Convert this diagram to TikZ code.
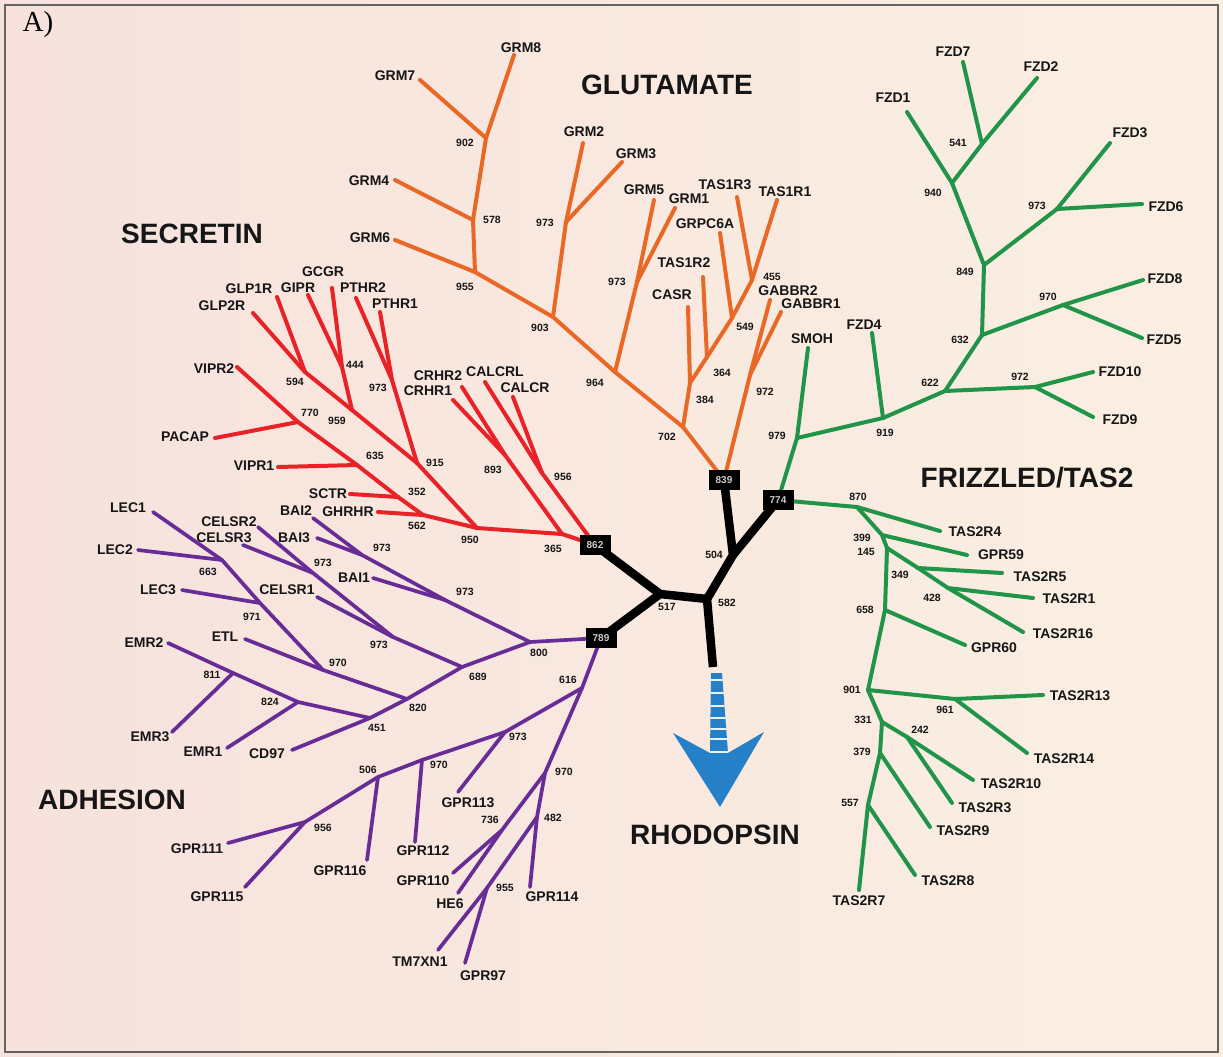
\documentclass[tikz,border=0pt]{standalone}
\usepackage{fontspec}
\setmainfont{Liberation Sans}
\newfontfamily\serifA{Liberation Serif}
\definecolor{bgl}{RGB}{247,226,221}
\definecolor{bgr}{RGB}{250,239,226}
\definecolor{framec}{RGB}{100,100,100}
\definecolor{ink}{RGB}{22,22,22}
\definecolor{cglu}{RGB}{234,104,38}
\definecolor{csec}{RGB}{232,34,38}
\definecolor{cfzd}{RGB}{32,148,72}
\definecolor{cadh}{RGB}{104,44,150}
\definecolor{cblue}{RGB}{38,128,200}
\begin{document}
\begin{tikzpicture}[x=1pt,y=-1pt,
  leaf/.style={font=\fontsize{14}{14}\selectfont\bfseries,text=ink,inner sep=0pt},
  num/.style={font=\fontsize{10.5}{10.5}\selectfont\bfseries,text=ink,inner sep=0pt},
  ttl/.style={font=\fontsize{28}{28}\selectfont\bfseries,text=ink,inner sep=0pt},
  boxn/.style={fill=black,text=white!80!black,minimum width=31pt,minimum height=20pt,inner sep=0pt,font=\fontsize{10}{10}\selectfont\bfseries},
  br/.style={line width=4pt,line cap=round,line join=round},
  glu/.style={br,draw=cglu}, sec/.style={br,draw=csec},
  fzd/.style={br,draw=cfzd}, adh/.style={br,draw=cadh,line width=3.7pt},
  core/.style={line width=8.5pt,line cap=round,line join=round,draw=black}]

\useasboundingbox (0,0) rectangle (1223,1057);
\shade[left color=bgl,right color=bgr] (0,0) rectangle (1223,1057);
\draw[framec,line width=2pt] (5,5) rectangle (1218,1052);

% ---------- core ----------
\coordinate (k862) at (595,545);
\coordinate (k839) at (724,480);
\coordinate (k774) at (778,500);
\coordinate (k789) at (601,638);
\coordinate (c517) at (660,594);
\coordinate (c582) at (707,599);
\coordinate (c504) at (733,555);
\coordinate (crho) at (713,667);

% ---------- glutamate ----------
\coordinate (g702) at (683,427);
\coordinate (g964) at (615,372);
\coordinate (g903) at (553,317);
\coordinate (g955) at (475,272);
\coordinate (lGRM6) at (395,240);
\coordinate (g578) at (473,220);
\coordinate (lGRM4) at (395,180);
\coordinate (g902) at (486,138);
\coordinate (lGRM7) at (420,80);
\coordinate (lGRM8) at (514,55);
\coordinate (g973a) at (566,222);
\coordinate (lGRM2) at (583,143);
\coordinate (lGRM3) at (622,162);
\coordinate (g973b) at (637,282);
\coordinate (lGRM5) at (654,200);
\coordinate (lGRM1) at (675,208);
\coordinate (g384) at (690,383);
\coordinate (lCASR) at (688,307);
\coordinate (g364) at (707,357);
\coordinate (lTAS1R2) at (703,277);
\coordinate (g549) at (732,318);
\coordinate (lGRPC6A) at (720,233);
\coordinate (g455) at (752,280);
\coordinate (lTAS1R3) at (737,197);
\coordinate (lTAS1R1) at (777,200);
\coordinate (g972) at (750,375);
\coordinate (lGABBR2) at (770,300);
\coordinate (lGABBR1) at (781,312);

% ---------- secretin ----------
\coordinate (s950) at (477,528);
\coordinate (s365) at (562,534);
\coordinate (s893) at (505,455);
\coordinate (lCRHR1) at (453,400);
\coordinate (lCRHR2) at (462,387);
\coordinate (s956) at (542,473);
\coordinate (lCALCRL) at (485,382);
\coordinate (lCALCR) at (513,397);
\coordinate (s562) at (423,515);
\coordinate (lGHRHR) at (378,512);
\coordinate (s352) at (398,497);
\coordinate (lSCTR) at (350,494);
\coordinate (s635) at (357,465);
\coordinate (lVIPR1) at (278,467);
\coordinate (s770) at (298,422);
\coordinate (lPACAP) at (215,438);
\coordinate (lVIPR2) at (237,367);
\coordinate (s915) at (417,463);
\coordinate (s959) at (352,410);
\coordinate (s594) at (305,372);
\coordinate (lGLP2R) at (253,313);
\coordinate (lGLP1R) at (277,297);
\coordinate (s444) at (342,367);
\coordinate (lGIPR) at (308,295);
\coordinate (lGCGR) at (332,288);
\coordinate (s973) at (392,380);
\coordinate (lPTHR2) at (356,298);
\coordinate (lPTHR1) at (380,312);

% ---------- frizzled ----------
\coordinate (f979) at (797,438);
\coordinate (lSMOH) at (808,348);
\coordinate (f919) at (883,418);
\coordinate (lFZD4) at (872,333);
\coordinate (f622) at (945,391);
\coordinate (f972) at (1035,387);
\coordinate (lFZD10) at (1093,372);
\coordinate (lFZD9) at (1093,417);
\coordinate (f632) at (982,335);
\coordinate (f970) at (1063,305);
\coordinate (lFZD8) at (1143,280);
\coordinate (lFZD5) at (1142,338);
\coordinate (f849) at (984,265);
\coordinate (f973) at (1057,209);
\coordinate (lFZD3) at (1110,143);
\coordinate (lFZD6) at (1142,204);
\coordinate (f940) at (952,183);
\coordinate (lFZD1) at (907,112);
\coordinate (f541) at (982,144);
\coordinate (lFZD7) at (963,62);
\coordinate (lFZD2) at (1037,78);

% ---------- TAS2 ----------
\coordinate (t870) at (857,507);
\coordinate (lTAS2R4) at (940,531);
\coordinate (t399) at (882,535);
\coordinate (lGPR59) at (967,555);
\coordinate (t145) at (887,548);
\coordinate (t349) at (918,568);
\coordinate (lTAS2R5) at (1002,573);
\coordinate (t428) at (948,588);
\coordinate (lTAS2R1) at (1033,598);
\coordinate (lTAS2R16) at (1023,632);
\coordinate (t658) at (885,610);
\coordinate (lGPR60) at (965,645);
\coordinate (t901) at (868,690);
\coordinate (t961) at (955,699);
\coordinate (lTAS2R13) at (1043,695);
\coordinate (lTAS2R14) at (1027,753);
\coordinate (t331) at (882,722);
\coordinate (t242) at (907,737);
\coordinate (lTAS2R10) at (973,780);
\coordinate (lTAS2R3) at (952,803);
\coordinate (t379) at (880,753);
\coordinate (lTAS2R9) at (930,827);
\coordinate (t557) at (868,805);
\coordinate (lTAS2R8) at (915,875);
\coordinate (lTAS2R7) at (859,890);

% ---------- adhesion ----------
\coordinate (a800) at (530,642);
\coordinate (a616) at (582,688);
\coordinate (aB1) at (445,600);
\coordinate (lBAI1) at (373,578);
\coordinate (aB23) at (362,555);
\coordinate (lBAI2) at (313,518);
\coordinate (lBAI3) at (317,538);
\coordinate (a689) at (462,667);
\coordinate (aC1) at (393,637);
\coordinate (lCELSR1) at (317,597);
\coordinate (aC23) at (313,573);
\coordinate (lCELSR2) at (258,527);
\coordinate (lCELSR3) at (243,545);
\coordinate (a820) at (407,699);
\coordinate (a970) at (323,670);
\coordinate (lETL) at (245,639);
\coordinate (a971) at (260,603);
\coordinate (lLEC3) at (182,590);
\coordinate (a663) at (222,560);
\coordinate (lLEC2) at (138,550);
\coordinate (lLEC1) at (153,512);
\coordinate (a451) at (370,718);
\coordinate (lCD97) at (292,750);
\coordinate (a824) at (298,702);
\coordinate (lEMR1) at (227,748);
\coordinate (a811) at (233,673);
\coordinate (lEMR2) at (168,643);
\coordinate (lEMR3) at (172,732);
\coordinate (a973c) at (505,732);
\coordinate (lGPR113) at (458,792);
\coordinate (a970b) at (422,760);
\coordinate (lGPR112) at (415,842);
\coordinate (a506) at (378,777);
\coordinate (lGPR116) at (367,860);
\coordinate (a956) at (305,822);
\coordinate (lGPR111) at (228,843);
\coordinate (lGPR115) at (245,887);
\coordinate (a970c) at (545,773);
\coordinate (a736) at (502,830);
\coordinate (lGPR110) at (453,873);
\coordinate (lHE6) at (458,893);
\coordinate (a482) at (537,817);
\coordinate (lGPR114) at (530,887);
\coordinate (a955) at (487,888);
\coordinate (lTM7XN1) at (438,950);
\coordinate (lGPR97) at (465,963);

% ---------- branches ----------
\foreach \p/\q in {k839/g702,g702/g964,g964/g903,g903/g955,g955/lGRM6,g955/g578,g578/lGRM4,g578/g902,g902/lGRM7,g902/lGRM8,
  g903/g973a,g973a/lGRM2,g973a/lGRM3,g964/g973b,g973b/lGRM5,g973b/lGRM1,
  g702/g384,g384/lCASR,g384/g364,g364/lTAS1R2,g364/g549,g549/lGRPC6A,g549/g455,g455/lTAS1R3,g455/lTAS1R1,
  k839/g972,g972/lGABBR2,g972/lGABBR1}
  \draw[glu] (\p) -- (\q);

\foreach \p/\q in {k862/s365,s365/s950,s365/s893,s893/lCRHR1,s893/lCRHR2,k862/s956,s956/lCALCRL,s956/lCALCR,
  s950/s562,s562/lGHRHR,s562/s352,s352/lSCTR,s352/s635,s635/lVIPR1,s635/s770,s770/lPACAP,s770/lVIPR2,
  s950/s915,s915/s959,s959/s594,s594/lGLP2R,s594/lGLP1R,s959/s444,s444/lGIPR,s444/lGCGR,
  s915/s973,s973/lPTHR2,s973/lPTHR1}
  \draw[sec] (\p) -- (\q);

\foreach \p/\q in {k774/f979,f979/lSMOH,f979/f919,f919/lFZD4,f919/f622,f622/f972,f972/lFZD10,f972/lFZD9,
  f622/f632,f632/f970,f970/lFZD8,f970/lFZD5,f632/f849,f849/f973,f973/lFZD3,f973/lFZD6,
  f849/f940,f940/lFZD1,f940/f541,f541/lFZD7,f541/lFZD2,
  k774/t870,t870/lTAS2R4,t870/t399,t399/lGPR59,t399/t145,t145/t349,t349/lTAS2R5,t349/t428,t428/lTAS2R1,t428/lTAS2R16,
  t145/t658,t658/lGPR60,t658/t901,t901/t961,t961/lTAS2R13,t961/lTAS2R14,
  t901/t331,t331/t242,t242/lTAS2R10,t242/lTAS2R3,t331/t379,t379/lTAS2R9,t379/t557,t557/lTAS2R8,t557/lTAS2R7}
  \draw[fzd] (\p) -- (\q);

\foreach \p/\q in {k789/a800,a800/aB1,aB1/lBAI1,aB1/aB23,aB23/lBAI2,aB23/lBAI3,
  a800/a689,a689/aC1,aC1/lCELSR1,aC1/aC23,aC23/lCELSR2,aC23/lCELSR3,
  a689/a820,a820/a970,a970/lETL,a970/a971,a971/lLEC3,a971/a663,a663/lLEC2,a663/lLEC1,
  a820/a451,a451/lCD97,a451/a824,a824/lEMR1,a824/a811,a811/lEMR2,a811/lEMR3,
  k789/a616,a616/a973c,a973c/lGPR113,a973c/a970b,a970b/lGPR112,a970b/a506,a506/lGPR116,a506/a956,a956/lGPR111,a956/lGPR115,
  a616/a970c,a970c/a736,a736/lGPR110,a736/lHE6,a970c/a482,a482/lGPR114,a482/a955,a955/lTM7XN1,a955/lGPR97}
  \draw[adh] (\p) -- (\q);

% core black
\foreach \p/\q in {k862/c517,k789/c517,c517/c582,c582/c504,c504/k839,c504/k774}
  \draw[core] (\p) -- (\q);
\draw[core,line cap=butt] (c582) -- (crho);

% boxes
\node[boxn] (B862) at (k862) {862};
\node[boxn] (B839) at (k839) {839};
\node[boxn] (B774) at (k774) {774};
\node[boxn] (B789) at (k789) {789};

% rhodopsin arrow
\fill[cblue] (673,733) -- (710,753) -- (728,753) -- (764,732) -- (720,807) -- cycle;
\begin{scope}
  \clip (711,673) -- (722,673) -- (728,753) -- (710,753) -- cycle;
  \fill[cblue] (700,673) rectangle (740,753);
  \foreach \yy in {680,693,706,718,729,739,752}
    \draw[white!90!cblue,line width=1.6pt] (700,\yy) -- (740,\yy);
\end{scope}

% ---------- numbers ----------
\node[num] (n517) at (667,607) {517};
\node[num] (n582) at (727,603) {582};
\node[num] (n504) at (714,555) {504};

\node[num] (n702) at (667,437) {702};
\node[num] (n964) at (595,383) {964};
\node[num] (n903) at (540,328) {903};
\node[num] (n955) at (465,287) {955};
\node[num] (n578) at (492,220) {578};
\node[num] (n902) at (465,143) {902};
\node[num] (n973ga) at (545,223) {973};
\node[num] (n973gb) at (617,282) {973};
\node[num] (n384) at (705,400) {384};
\node[num] (n364) at (722,373) {364};
\node[num] (n549) at (745,327) {549};
\node[num] (n455) at (772,277) {455};
\node[num] (n972g) at (765,392) {972};

\node[num] (n950) at (470,540) {950};
\node[num] (n365) at (553,549) {365};
\node[num] (n893) at (493,470) {893};
\node[num] (n956s) at (563,477) {956};
\node[num] (n562) at (417,526) {562};
\node[num] (n352) at (417,492) {352};
\node[num] (n635) at (375,456) {635};
\node[num] (n770) at (310,413) {770};
\node[num] (n915) at (435,463) {915};
\node[num] (n959) at (337,421) {959};
\node[num] (n594) at (295,382) {594};
\node[num] (n444) at (355,365) {444};
\node[num] (n973s) at (378,388) {973};

\node[num] (n979) at (777,436) {979};
\node[num] (n919) at (885,433) {919};
\node[num] (n622) at (930,383) {622};
\node[num] (n972f) at (1020,377) {972};
\node[num] (n632) at (960,340) {632};
\node[num] (n970f) at (1048,297) {970};
\node[num] (n849) at (965,272) {849};
\node[num] (n973f) at (1037,206) {973};
\node[num] (n940) at (933,193) {940};
\node[num] (n541) at (958,143) {541};

\node[num] (n870) at (858,497) {870};
\node[num] (n399) at (862,538) {399};
\node[num] (n145) at (866,552) {145};
\node[num] (n349) at (900,575) {349};
\node[num] (n428) at (932,598) {428};
\node[num] (n658) at (865,610) {658};
\node[num] (n901) at (852,690) {901};
\node[num] (n961) at (945,710) {961};
\node[num] (n331) at (863,720) {331};
\node[num] (n242) at (920,730) {242};
\node[num] (n379) at (862,752) {379};
\node[num] (n557) at (850,803) {557};

\node[num] (n800) at (539,653) {800};
\node[num] (n616) at (568,680) {616};
\node[num] (n973b1) at (465,592) {973};
\node[num] (n973b2) at (382,548) {973};
\node[num] (n689) at (478,677) {689};
\node[num] (n973c1) at (379,645) {973};
\node[num] (n973c2) at (323,563) {973};
\node[num] (n820) at (418,708) {820};
\node[num] (n970a) at (338,663) {970};
\node[num] (n971) at (252,617) {971};
\node[num] (n663) at (208,572) {663};
\node[num] (n451) at (377,728) {451};
\node[num] (n824) at (270,702) {824};
\node[num] (n811) at (212,675) {811};
\node[num] (n973d) at (518,737) {973};
\node[num] (n970b) at (439,765) {970};
\node[num] (n506) at (368,770) {506};
\node[num] (n956a) at (323,828) {956};
\node[num] (n970c) at (564,772) {970};
\node[num] (n736) at (490,820) {736};
\node[num] (n482) at (553,818) {482};
\node[num] (n955a) at (505,888) {955};

% ---------- leaf labels ----------
\node[leaf] (tGRM6) at (370,238) {GRM6};
\node[leaf] (tGRM4) at (369,181) {GRM4};
\node[leaf] (tGRM7) at (395,76) {GRM7};
\node[leaf] (tGRM8) at (521,48) {GRM8};
\node[leaf] (tGRM2) at (584,132) {GRM2};
\node[leaf] (tGRM3) at (636,154) {GRM3};
\node[leaf] (tGRM5) at (644,190) {GRM5};
\node[leaf] (tGRM1) at (689,199) {GRM1};
\node[leaf] (tTAS1R3) at (725,185) {TAS1R3};
\node[leaf] (tTAS1R1) at (785,192) {TAS1R1};
\node[leaf] (tGRPC6A) at (705,224) {GRPC6A};
\node[leaf] (tTAS1R2) at (684,263) {TAS1R2};
\node[leaf] (tCASR) at (672,295) {CASR};
\node[leaf] (tGABBR2) at (788,291) {GABBR2};
\node[leaf] (tGABBR1) at (811,304) {GABBR1};

\node[leaf] (tCRHR1) at (428,391) {CRHR1};
\node[leaf] (tCRHR2) at (438,376) {CRHR2};
\node[leaf] (tCALCRL) at (495,372) {CALCRL};
\node[leaf] (tCALCR) at (525,388) {CALCR};
\node[leaf] (tGHRHR) at (348,512) {GHRHR};
\node[leaf] (tSCTR) at (328,494) {SCTR};
\node[leaf] (tVIPR1) at (254,466) {VIPR1};
\node[leaf] (tPACAP) at (185,437) {PACAP};
\node[leaf] (tVIPR2) at (214,369) {VIPR2};
\node[leaf] (tGLP2R) at (222,306) {GLP2R};
\node[leaf] (tGLP1R) at (249,289) {GLP1R};
\node[leaf] (tGIPR) at (298,288) {GIPR};
\node[leaf] (tGCGR) at (323,272) {GCGR};
\node[leaf] (tPTHR2) at (363,288) {PTHR2};
\node[leaf] (tPTHR1) at (395,304) {PTHR1};

\node[leaf] (tSMOH) at (812,339) {SMOH};
\node[leaf] (tFZD4) at (864,325) {FZD4};
\node[leaf] (tFZD10) at (1120,372) {FZD10};
\node[leaf] (tFZD9) at (1120,420) {FZD9};
\node[leaf] (tFZD8) at (1165,279) {FZD8};
\node[leaf] (tFZD5) at (1164,340) {FZD5};
\node[leaf] (tFZD3) at (1130,133) {FZD3};
\node[leaf] (tFZD6) at (1166,207) {FZD6};
\node[leaf] (tFZD1) at (893,98) {FZD1};
\node[leaf] (tFZD7) at (953,52) {FZD7};
\node[leaf] (tFZD2) at (1041,67) {FZD2};

\node[leaf] (tTAS2R4) at (975,532) {TAS2R4};
\node[leaf] (tGPR59) at (1001,555) {GPR59};
\node[leaf] (tTAS2R5) at (1040,577) {TAS2R5};
\node[leaf] (tTAS2R1) at (1069,599) {TAS2R1};
\node[leaf] (tTAS2R16) at (1063,634) {TAS2R16};
\node[leaf] (tGPR60) at (994,648) {GPR60};
\node[leaf] (tTAS2R13) at (1080,696) {TAS2R13};
\node[leaf] (tTAS2R14) at (1064,759) {TAS2R14};
\node[leaf] (tTAS2R10) at (1011,784) {TAS2R10};
\node[leaf] (tTAS2R3) at (985,808) {TAS2R3};
\node[leaf] (tTAS2R9) at (963,831) {TAS2R9};
\node[leaf] (tTAS2R8) at (948,881) {TAS2R8};
\node[leaf] (tTAS2R7) at (859,901) {TAS2R7};

\node[leaf] (tLEC1) at (128,508) {LEC1};
\node[leaf] (tLEC2) at (115,550) {LEC2};
\node[leaf] (tLEC3) at (158,590) {LEC3};
\node[leaf] (tCELSR2) at (229,522) {CELSR2};
\node[leaf] (tCELSR3) at (224,538) {CELSR3};
\node[leaf] (tBAI2) at (296,511) {BAI2};
\node[leaf] (tBAI3) at (294,538) {BAI3};
\node[leaf] (tBAI1) at (354,578) {BAI1};
\node[leaf] (tCELSR1) at (287,590) {CELSR1};
\node[leaf] (tETL) at (225,637) {ETL};
\node[leaf] (tEMR2) at (144,643) {EMR2};
\node[leaf] (tEMR3) at (150,737) {EMR3};
\node[leaf] (tEMR1) at (203,752) {EMR1};
\node[leaf] (tCD97) at (267,754) {CD97};
\node[leaf] (tGPR113) at (468,803) {GPR113};
\node[leaf] (tGPR112) at (423,851) {GPR112};
\node[leaf] (tGPR116) at (340,871) {GPR116};
\node[leaf] (tGPR111) at (197,849) {GPR111};
\node[leaf] (tGPR115) at (217,897) {GPR115};
\node[leaf] (tGPR110) at (423,881) {GPR110};
\node[leaf] (tHE6) at (450,904) {HE6};
\node[leaf] (tGPR114) at (552,897) {GPR114};
\node[leaf] (tTM7XN1) at (420,962) {TM7XN1};
\node[leaf] (tGPR97) at (483,976) {GPR97};

% ---------- titles ----------
\node[ttl] (hGLU) at (667,85) {GLUTAMATE};
\node[ttl] (hSEC) at (192,234) {SECRETIN};
\node[ttl] (hFZD) at (1027,478) {FRIZZLED/TAS2};
\node[ttl] (hADH) at (112,800) {ADHESION};
\node[ttl] (hRHO) at (715,835) {RHODOPSIN};
\node[inner sep=0pt,text=black,font=\serifA\fontsize{29}{29}\selectfont] (hA) at (38,25) {A)};
\end{tikzpicture}
\end{document}
